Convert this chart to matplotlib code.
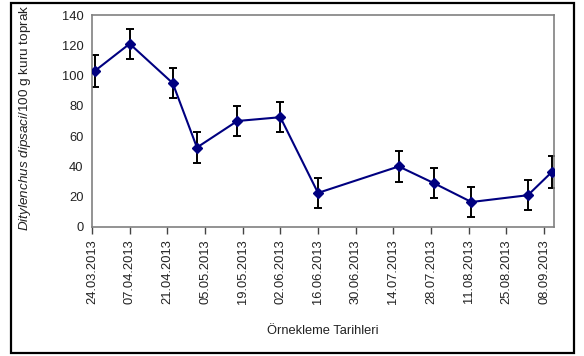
import matplotlib
matplotlib.use("Agg")
import matplotlib.pyplot as plt
import matplotlib.dates as mdates
from matplotlib.patches import Rectangle
import numpy as np
from datetime import datetime, timedelta

plt.rcParams['font.family'] = ['Liberation Sans', 'DejaVu Sans']
plt.rcParams['mathtext.fontset'] = 'custom'
plt.rcParams['mathtext.it'] = 'Liberation Sans:italic'
plt.rcParams['mathtext.rm'] = 'Liberation Sans'

# sampling dates and nematode counts per 100 g dry soil
dates = ["25.03.2013", "07.04.2013", "23.04.2013", "02.05.2013", "17.05.2013",
         "02.06.2013", "16.06.2013", "16.07.2013", "29.07.2013", "12.08.2013",
         "02.09.2013", "11.09.2013"]
counts = [103, 121, 95, 52.5, 70, 72.5, 22.5, 40, 29, 16.5, 21, 36.5]
errors = [10.5, 10, 10, 10, 10, 10, 10, 10, 10, 10, 10, 10.5]

tick_start = "24.03.2013"
tick_step_days = 14
tick_count = 13

x = [datetime.strptime(d, "%d.%m.%Y") for d in dates]
t0 = datetime.strptime(tick_start, "%d.%m.%Y")
ticks = [t0 + timedelta(days=tick_step_days * i) for i in range(tick_count)]

fs = 9.3
fig = plt.figure(figsize=(5.84, 3.56), dpi=100)
ax = fig.add_axes([92 / 584, 1 - 227 / 356, 462 / 584, 212 / 356])

ax.errorbar(x, counts, yerr=errors, fmt='none', ecolor='black',
            elinewidth=1.4, capsize=3, capthick=1.4, zorder=2)
ax.plot(x, counts, color='#000080', lw=1.5, marker='D', markersize=5.5,
        markerfacecolor='#000080', markeredgecolor='#000080', zorder=3)

ax.set_xlim(ticks[0], ticks[-1] + timedelta(days=3.7))
ax.set_ylim(0, 140)
ax.set_yticks(np.arange(0, 141, 20))
ax.set_xticks(ticks)
ax.xaxis.set_major_formatter(mdates.DateFormatter('%d.%m.%Y'))
plt.setp(ax.get_xticklabels(), rotation=90)

for s in ax.spines.values():
    s.set_color('#808080')
    s.set_linewidth(1.2)
ax.tick_params(axis='y', length=0, labelsize=fs, pad=6, colors='#222222')
ax.tick_params(axis='x', length=5, width=1, color='#444444', labelsize=fs,
               pad=4, labelcolor='#222222')

ax.set_ylabel(r'$\mathit{Ditylenchus\ dipsaci}$/100 g kuru toprak',
              fontsize=fs + 0.4, color='#222222')
ax.yaxis.set_label_coords(-0.128, 0.515)
fig.text(323 / 584, 1 - 331 / 356, 'Örnekleme Tarihleri', ha='center',
         va='center', fontsize=fs, color='#222222')

# outer frame
fig.patches.append(Rectangle((11 / 584, 3 / 356), 563 / 584, 350 / 356,
                             transform=fig.transFigure, fill=False,
                             edgecolor='black', lw=1.6))

fig.savefig('out.png', dpi=100)
